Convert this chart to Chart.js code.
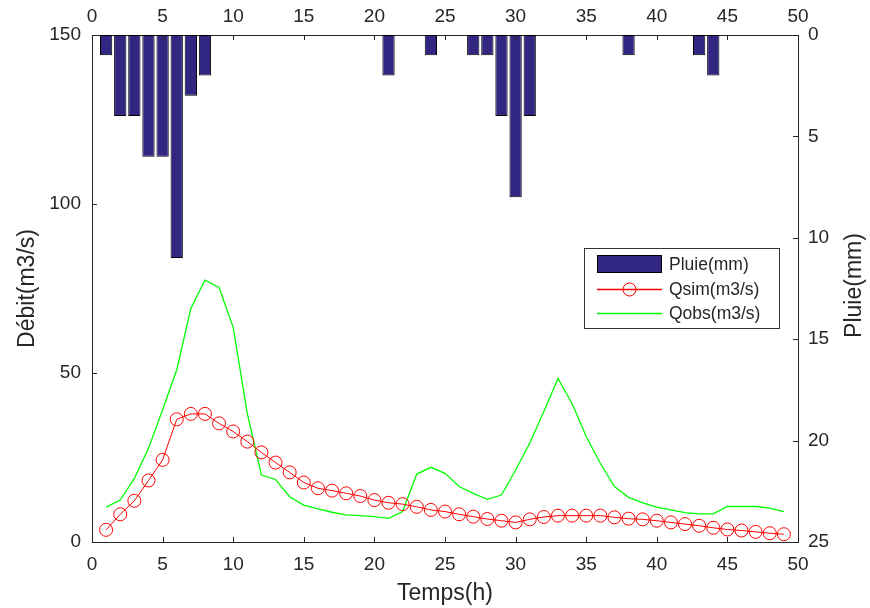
<!DOCTYPE html>
<html>
<head>
<meta charset="utf-8">
<title>Pluie - Débit</title>
<script src="https://cdn.jsdelivr.net/npm/chart.js@4.4.1/dist/chart.umd.min.js"></script>
<style>
  html, body { margin: 0; padding: 0; background: #fff; }
  #chart { display: block; }
</style>
</head>
<body>
<canvas id="chart" width="870" height="608"></canvas>
<script>
// time steps (h)
const hours = [1, 2, 3, 4, 5, 6, 7, 8, 9, 10, 11, 12, 13, 14, 15, 16, 17, 18, 19, 20,
               21, 22, 23, 24, 25, 26, 27, 28, 29, 30, 31, 32, 33, 34, 35, 36, 37, 38, 39, 40,
               41, 42, 43, 44, 45, 46, 47, 48, 49];

// hourly rainfall (mm), hangs from the top on the right axis
const pluie = [1, 4, 4, 6, 6, 11, 3, 2, 0, 0, 0, 0, 0, 0, 0, 0, 0, 0, 0, 0,
               2, 0, 0, 1, 0, 0, 1, 1, 4, 8, 4, 0, 0, 0, 0, 0, 0, 1, 0, 0,
               0, 0, 1, 2, 0, 0, 0, 0, 0];

// simulated discharge (m3/s)
const qsim = [3.6, 8.2, 12.2, 18.2, 24.3, 36.3, 37.9, 37.9, 35.1, 32.7,
              29.7, 26.5, 23.5, 20.6, 17.6, 15.9, 15.2, 14.4, 13.6, 12.4,
              11.6, 11.2, 10.4, 9.5, 9.0, 8.2, 7.5, 6.8, 6.3, 5.8,
              6.7, 7.4, 7.8, 7.8, 7.8, 7.8, 7.3, 6.9, 6.7, 6.3,
              5.8, 5.3, 4.8, 4.2, 3.7, 3.4, 3.0, 2.6, 2.3];

// observed discharge (m3/s)
const qobs = [10.3, 12.4, 18.8, 27.7, 39.1, 50.9, 69.1, 77.5, 75.3, 63.5,
              38.0, 19.8, 18.5, 13.4, 10.9, 9.8, 8.8, 8.0, 7.8, 7.5,
              7.0, 9.0, 20.1, 22.1, 20.3, 16.4, 14.4, 12.6, 13.9, 21.3,
              29.2, 38.6, 48.4, 41.0, 31.2, 23.3, 16.4, 13.2, 11.6, 10.3,
              9.5, 8.7, 8.3, 8.3, 10.5, 10.5, 10.5, 10.0, 9.0];

// tick labels
const timeTicks = [0, 5, 10, 15, 20, 25, 30, 35, 40, 45, 50];
const debitTicks = [0, 50, 100, 150];
const pluieTicks = [0, 5, 10, 15, 20, 25];

const axisColor = '#262626';
const fontFamily = "'Liberation Sans', Arial, sans-serif";
const tickFont = { family: fontFamily, size: 19 };
const titleFont = { family: fontFamily, size: 23 };

function setTicks(values) {
    return function(scale) {
        scale.ticks = values.map(v => ({ value: v }));
    };
}

function points(values) {
    return hours.map((h, i) => ({ x: h, y: values[i] === 0 ? null : values[i] }));
}

// inward tick marks, right-hand title and the boxed legend
const decorations = {
    id: 'decorations',
    afterDraw(chart) {
        const { ctx, chartArea: a, scales } = chart;
        const len = 5;
        ctx.save();
        ctx.strokeStyle = axisColor;
        ctx.lineWidth = 1;
        ctx.beginPath();
        scales.x.ticks.forEach(t => {
            const px = Math.round(scales.x.getPixelForValue(t.value)) + 0.5;
            ctx.moveTo(px, a.bottom); ctx.lineTo(px, a.bottom - len);
        });
        scales.xTop.ticks.forEach(t => {
            const px = Math.round(scales.xTop.getPixelForValue(t.value)) + 0.5;
            ctx.moveTo(px, a.top); ctx.lineTo(px, a.top + len);
        });
        scales.y.ticks.forEach(t => {
            const py = Math.round(scales.y.getPixelForValue(t.value)) + 0.5;
            ctx.moveTo(a.left, py); ctx.lineTo(a.left + len, py);
        });
        scales.y2.ticks.forEach(t => {
            const py = Math.round(scales.y2.getPixelForValue(t.value)) + 0.5;
            ctx.moveTo(a.right, py); ctx.lineTo(a.right - len, py);
        });
        ctx.stroke();

        // right axis title, reading bottom to top like the left one
        ctx.fillStyle = axisColor;
        ctx.font = titleFont.size + 'px ' + fontFamily;
        ctx.textAlign = 'center';
        ctx.textBaseline = 'middle';
        ctx.translate(855, (a.top + a.bottom) / 2 - 3);
        ctx.rotate(-Math.PI / 2);
        ctx.fillText('Pluie(mm)', 0, 0);
        ctx.restore();

        // legend
        const ds = chart.data.datasets;
        const box = { x: 584.5, y: 248.5, w: 195, h: 80 };
        ctx.save();
        ctx.fillStyle = '#ffffff';
        ctx.fillRect(box.x, box.y, box.w, box.h);
        ctx.strokeStyle = '#333333';
        ctx.lineWidth = 1;
        ctx.strokeRect(box.x, box.y, box.w, box.h);

        const rows = [264, 289, 313];
        const sx0 = 597, sx1 = 662, tx = 669;
        ctx.font = '17.5px ' + fontFamily;
        ctx.textAlign = 'left';
        ctx.textBaseline = 'middle';

        // bar swatch
        ctx.fillStyle = ds[0].backgroundColor;
        ctx.fillRect(sx0, rows[0] - 9, sx1 - sx0, 18);
        ctx.strokeStyle = ds[0].borderColor;
        ctx.strokeRect(sx0 + 0.5, rows[0] - 8.5, sx1 - sx0 - 1, 17);

        // line swatches
        [1, 2].forEach((k, j) => {
            const y = rows[j + 1] + 0.5;
            ctx.strokeStyle = ds[k].borderColor;
            ctx.lineWidth = 1.3;
            ctx.beginPath();
            ctx.moveTo(sx0, y); ctx.lineTo(sx1, y);
            ctx.stroke();
            if (ds[k].pointRadius > 0) {
                ctx.beginPath();
                ctx.arc((sx0 + sx1) / 2, y, ds[k].pointRadius, 0, Math.PI * 2);
                ctx.strokeStyle = ds[k].pointBorderColor;
                ctx.lineWidth = 1;
                ctx.stroke();
            }
        });

        ctx.fillStyle = axisColor;
        ds.forEach((d, i) => ctx.fillText(d.label, tx, rows[i] + 1));
        ctx.restore();
    }
};

new Chart(document.getElementById('chart'), {
    type: 'bar',
    data: {
        datasets: [
            {
                type: 'bar',
                label: 'Pluie(mm)',
                data: points(pluie),
                yAxisID: 'y2',
                xAxisID: 'x',
                backgroundColor: '#312783',
                borderColor: '#000000',
                borderWidth: 1,
                borderSkipped: false,
                categoryPercentage: 1,
                barPercentage: 0.87,
                order: 2
            },
            {
                type: 'line',
                label: 'Qsim(m3/s)',
                data: hours.map((h, i) => ({ x: h, y: qsim[i] })),
                yAxisID: 'y',
                xAxisID: 'x',
                borderColor: '#ff0000',
                borderWidth: 1,
                pointRadius: 6.5,
                pointBorderColor: '#ff0000',
                pointBackgroundColor: 'rgba(0,0,0,0)',
                pointBorderWidth: 1,
                tension: 0,
                fill: false,
                order: 0
            },
            {
                type: 'line',
                label: 'Qobs(m3/s)',
                data: hours.map((h, i) => ({ x: h, y: qobs[i] })),
                yAxisID: 'y',
                xAxisID: 'x',
                borderColor: '#00ff00',
                borderWidth: 1.3,
                pointRadius: 0,
                tension: 0,
                fill: false,
                order: 1
            }
        ]
    },
    options: {
        responsive: false,
        animation: false,
        devicePixelRatio: 1,
        layout: { padding: 0 },
        plugins: {
            legend: { display: false },
            tooltip: { enabled: false }
        },
        scales: {
            x: {
                type: 'linear',
                position: 'bottom',
                min: 0,
                max: 50,
                offset: false,
                afterBuildTicks: setTicks(timeTicks),
                afterFit: s => { s.height = 66; },
                grid: { display: false, drawTicks: false, offset: false },
                border: { display: true, color: axisColor, width: 1 },
                ticks: { font: tickFont, color: axisColor, padding: 11, maxRotation: 0, autoSkip: false },
                title: { display: true, text: 'Temps(h)', font: titleFont, color: axisColor, padding: { top: 0, bottom: 1 } }
            },
            xTop: {
                type: 'linear',
                position: 'top',
                min: 0,
                max: 50,
                offset: false,
                afterBuildTicks: setTicks(timeTicks),
                afterFit: s => { s.height = 35; },
                grid: { display: false, drawTicks: false, offset: false },
                border: { display: true, color: axisColor, width: 1 },
                ticks: { font: tickFont, color: axisColor, padding: 7, maxRotation: 0, autoSkip: false }
            },
            y: {
                type: 'linear',
                position: 'left',
                min: 0,
                max: 150,
                afterBuildTicks: setTicks(debitTicks),
                afterFit: s => { s.width = 92; },
                grid: { display: false, drawTicks: false },
                border: { display: true, color: axisColor, width: 1 },
                ticks: { font: tickFont, color: axisColor, padding: 11 },
                title: { display: true, text: 'Débit(m3/s)', font: titleFont, color: axisColor, padding: { top: 14, bottom: 0 } }
            },
            y2: {
                type: 'linear',
                position: 'right',
                min: 0,
                max: 25,
                reverse: true,
                afterBuildTicks: setTicks(pluieTicks),
                afterFit: s => { s.width = 72; },
                grid: { display: false, drawTicks: false },
                border: { display: true, color: axisColor, width: 1 },
                ticks: { font: tickFont, color: axisColor, padding: 10 }
            }
        }
    },
    plugins: [decorations]
});
</script>
</body>
</html>
